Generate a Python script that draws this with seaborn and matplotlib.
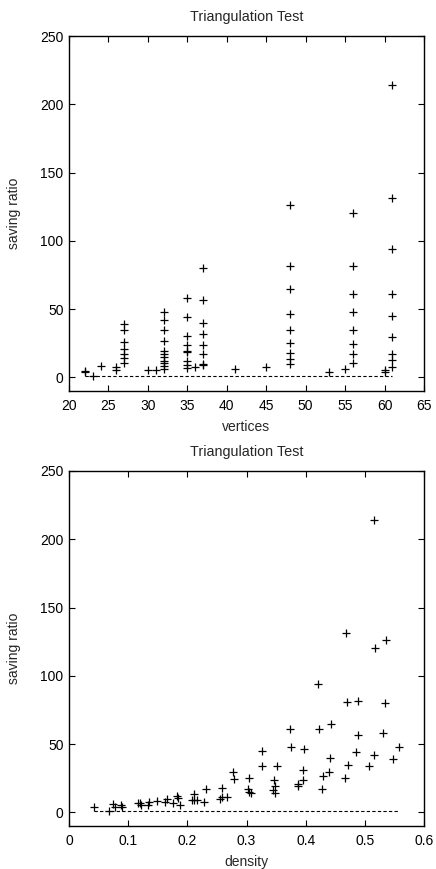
#!/usr/bin/env python3
# Triangulation test: saving ratio vs vertices and vs density (two stacked scatter plots)

import numpy as np
import pandas as pd
import matplotlib
matplotlib.use("Agg")
import matplotlib.pyplot as plt
import seaborn as sns

# -----------------------------
# Data
# -----------------------------
vertices = [22, 22, 23, 24, 26, 26,
            27, 27, 27, 27, 27, 27, 27,
            30, 31,
            32, 32, 32, 32, 32, 32, 32, 32, 32, 32, 32,
            35, 35, 35, 35, 35, 35, 35, 35, 35,
            36,
            37, 37, 37, 37, 37, 37, 37, 37,
            41, 45,
            48, 48, 48, 48, 48, 48, 48, 48, 48,
            53, 55,
            56, 56, 56, 56, 56, 56, 56, 56,
            60, 60,
            61, 61, 61, 61, 61, 61, 61, 61, 61]
ratio_v = [4.4, 3.6, 1.2, 8.5, 7.3, 5.1,
           39, 34.4, 25.6, 20.7, 17, 14.1, 10.5,
           5.4, 5.6,
           48, 42.2, 34.6, 26.3, 19.3, 17.3, 15.1, 12, 10.2, 8.3, 6.1,
           57.8, 44.4, 30, 23.9, 19.3, 18.3, 12.2, 9, 6.6,
           7.8,
           80, 57, 39.5, 31.5, 23.9, 16.8, 9.9, 9.2,
           5.9, 7.6,
           126, 81.7, 64.9, 46.6, 34.6, 25.4, 17.8, 13.2, 9.5,
           4.1, 6.3,
           120.5, 81.2, 61.2, 47.6, 34.4, 24.1, 16.8, 10.5,
           5.4, 4.1,
           214, 131.5, 93.9, 61, 44.6, 29.3, 16.8, 12.5, 7.8]

density = [0.042, 0.068, 0.075, 0.078, 0.088, 0.090, 0.116, 0.120, 0.122, 0.133,
           0.135, 0.148, 0.163, 0.166, 0.175, 0.183, 0.185, 0.188, 0.208, 0.212,
           0.212, 0.217, 0.228, 0.231, 0.256, 0.258, 0.259, 0.267, 0.278, 0.279,
           0.303, 0.305, 0.307, 0.305, 0.327, 0.327, 0.347, 0.349, 0.345, 0.348,
           0.351, 0.373, 0.375, 0.387, 0.387, 0.395, 0.395, 0.398, 0.421, 0.422,
           0.427, 0.430, 0.440, 0.441, 0.443, 0.467, 0.470, 0.472, 0.485, 0.488,
           0.489, 0.507, 0.515, 0.517, 0.531, 0.534, 0.535, 0.547, 0.557, 0.515,
           0.469]
ratio_d = [3.7, 1.2, 6.1, 4.1, 5.6, 3.7, 7.0, 7.0, 5.6, 5.3,
           7.3, 8.3, 7.8, 9.5, 6.6, 12.2, 10.2, 5.1, 9, 13.4,
           9, 8.8, 7.3, 16.8, 9.5, 17.8, 11.4, 11, 29.3, 24.4,
           16.8, 15.1, 13.9, 25.3, 44.9, 34.1, 23.6, 19.5, 16.3, 13.9,
           34.1, 61, 47.6, 20.7, 19.3, 31.2, 23.6, 46.3, 94.1, 61,
           17.3, 26.6, 29.5, 39.5, 64.6, 25.3, 81, 34.6, 44.4, 56.8,
           81.7, 34.1, 42.2, 120.5, 57.8, 80, 126, 39.2, 48, 214,
           131.5]

baseline = 1.0
vert_ticks = [20, 25, 30, 35, 40, 45, 50, 55, 60, 65]
dens_ticks = [0, 0.1, 0.2, 0.3, 0.4, 0.5, 0.6]
ratio_ticks = [0, 50, 100, 150, 200, 250]

df_v = pd.DataFrame({"vertices": vertices, "saving ratio": ratio_v})
df_d = pd.DataFrame({"density": density, "saving ratio": ratio_d})

# -----------------------------
# Style
# -----------------------------
sns.set_style("ticks")
plt.rcParams["font.family"] = ["Liberation Sans", "DejaVu Sans"]
plt.rcParams["font.size"] = 10

fig = plt.figure(figsize=(4.36, 8.69), dpi=100)
W, H = 436, 869
ax1 = fig.add_axes([69 / W, 1 - 391 / H, 355 / W, 355 / H])
ax2 = fig.add_axes([69 / W, 1 - 826 / H, 355 / W, 355 / H])


def style_axes(ax, xticks, xlim, xlabel, fmt):
    ax.set_xlim(*xlim)
    ax.set_ylim(-10, 250)
    ax.set_xticks(xticks)
    ax.set_xticklabels([fmt(t) for t in xticks])
    ax.set_yticks(ratio_ticks)
    ax.tick_params(direction="in", top=True, right=True, length=4,
                   width=0.8, labelsize=10, colors="black")
    ax.tick_params(axis="x", pad=6)
    ax.tick_params(axis="y", pad=4)
    for s in ax.spines.values():
        s.set_visible(True)
        s.set_linewidth(1.0)
        s.set_color("black")
    ax.set_xlabel(xlabel, fontsize=10, labelpad=5)
    ax.set_ylabel("saving ratio", fontsize=10, labelpad=14)
    ax.set_title("Triangulation Test", fontsize=10.4, pad=11)


sns.scatterplot(data=df_v, x="vertices", y="saving ratio", ax=ax1,
                marker="+", color="black", s=30, linewidth=0.9)
ax1.plot([min(vertices), max(vertices)], [baseline, baseline],
         color="black", linestyle=(0, (3, 2)), linewidth=0.8)
style_axes(ax1, vert_ticks, (20, 65), "vertices", lambda t: f"{t:g}")

sns.scatterplot(data=df_d, x="density", y="saving ratio", ax=ax2,
                marker="+", color="black", s=30, linewidth=0.9)
ax2.plot([min(density), max(density)], [baseline, baseline],
         color="black", linestyle=(0, (3, 2)), linewidth=0.8)
style_axes(ax2, dens_ticks, (0, 0.6), "density", lambda t: f"{t:g}")

fig.savefig("out.png", dpi=100)
